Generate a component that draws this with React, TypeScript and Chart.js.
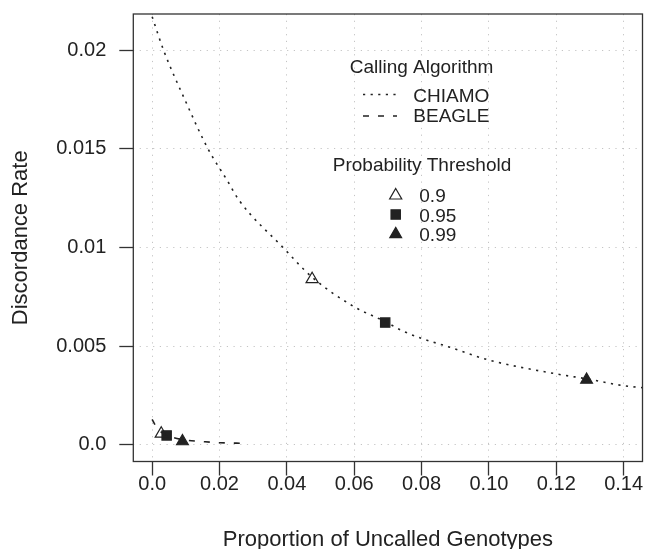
import React, { useEffect, useRef } from "react";
import { Chart, registerables } from "chart.js";

Chart.register(...registerables);

// ---- Data ----
const chiamoCurveX = [0.0, 0.0034, 0.0097, 0.0166, 0.0223, 0.0258, 0.0389, 0.0475, 0.06, 0.0692, 0.0741, 0.08, 0.0875, 0.10, 0.12, 0.129, 0.14, 0.1456];
const chiamoCurveY = [0.0217, 0.0200, 0.0175, 0.0150, 0.0134, 0.0124, 0.0100, 0.0085, 0.0070, 0.00625, 0.0058, 0.0054, 0.0050, 0.0043, 0.0036, 0.00335, 0.0030, 0.0029];

const beagleCurveX = [0.0, 0.0007, 0.0027, 0.0043, 0.009, 0.0157, 0.0203, 0.025, 0.0285];
const beagleCurveY = [0.0013, 0.00107, 0.00065, 0.00049, 0.00027, 0.00016, 0.00011, 0.00009, 0.00008];

const thresholds = ["0.9", "0.95", "0.99"];
const chiamoPointX = [0.0475, 0.0692, 0.129];
const chiamoPointY = [0.0084, 0.0062, 0.0033];
const beaglePointX = [0.0027, 0.0043, 0.009];
const beaglePointY = [0.00057, 0.00048, 0.00018];

const algorithms = ["CHIAMO", "BEAGLE"];

const xTickValues = [0, 0.02, 0.04, 0.06, 0.08, 0.1, 0.12, 0.14];
const xTickLabels = ["0.0", "0.02", "0.04", "0.06", "0.08", "0.10", "0.12", "0.14"];
const yTickValues = [0, 0.005, 0.01, 0.015, 0.02];
const yTickLabels = ["0.0", "0.005", "0.01", "0.015", "0.02"];

const xMin = -0.0056;
const xMax = 0.1456;
const yMin = -0.00084;
const yMax = 0.02184;

const FONT = "'Liberation Sans', Arial, Helvetica, sans-serif";
const INK = "#222222";

const markerStyles = [
  { style: "triangle", fill: "rgba(0,0,0,0)", radius: 7 },
  { style: "rect", fill: INK, radius: 6.6 },
  { style: "triangle", fill: INK, radius: 6.8 },
];

const lineDashes = [
  [2.2, 5.4],
  [6, 9],
];

const legendPlugin = {
  id: "rLegendBox",
  afterDraw(chart: any) {
    const ctx = chart.ctx as CanvasRenderingContext2D;
    const a = chart.chartArea;
    ctx.save();
    // plot box
    ctx.strokeStyle = "#333333";
    ctx.lineWidth = 1.3;
    ctx.setLineDash([]);
    ctx.strokeRect(a.left, a.top, a.right - a.left, a.bottom - a.top);

    // legend
    ctx.fillStyle = INK;
    ctx.textBaseline = "alphabetic";
    ctx.font = `19px ${FONT}`;
    ctx.textAlign = "center";
    ctx.fillText("Calling Algorithm", 421.5, 72.7);
    ctx.textAlign = "left";
    const algBase = [101.7, 122.3];
    const algLineY = [94.5, 116];
    algorithms.forEach((name, i) => {
      ctx.fillText(name, 413.3, algBase[i]);
      ctx.beginPath();
      ctx.strokeStyle = INK;
      ctx.lineWidth = 1.6;
      ctx.setLineDash(lineDashes[i]);
      ctx.moveTo(363, algLineY[i]);
      ctx.lineTo(397, algLineY[i]);
      ctx.stroke();
    });
    ctx.setLineDash([]);
    ctx.textAlign = "center";
    ctx.fillText("Probability Threshold", 422, 171);
    ctx.textAlign = "left";
    const thrBase = [201.7, 221.7, 241];
    const thrMarkY = [195.5, 214.5, 234.2];
    thresholds.forEach((t, i) => {
      ctx.fillStyle = INK;
      ctx.fillText(t, 419.3, thrBase[i]);
      const m = markerStyles[i];
      const x = 395.7;
      const y = thrMarkY[i];
      const r = m.radius;
      ctx.beginPath();
      if (m.style === "rect") {
        const s = r * Math.SQRT1_2;
        ctx.rect(x - s, y - s, 2 * s, 2 * s);
      } else {
        ctx.moveTo(x, y - r);
        ctx.lineTo(x + 0.866 * r, y + 0.5 * r);
        ctx.lineTo(x - 0.866 * r, y + 0.5 * r);
        ctx.closePath();
      }
      ctx.fillStyle = m.fill;
      ctx.fill();
      ctx.strokeStyle = INK;
      ctx.lineWidth = 1.2;
      ctx.stroke();
    });
    ctx.restore();
  },
};

export default function App() {
  const ref = useRef<HTMLCanvasElement | null>(null);

  useEffect(() => {
    document.body.style.margin = "0";
    const canvas = ref.current;
    if (!canvas) return;

    const curveDatasets = [
      {
        label: algorithms[0],
        data: chiamoCurveX.map((x, i) => ({ x, y: chiamoCurveY[i] })),
        showLine: true,
        pointRadius: 0,
        borderColor: INK,
        borderWidth: 1.6,
        borderDash: lineDashes[0],
        cubicInterpolationMode: "monotone",
        fill: false,
      },
      {
        label: algorithms[1],
        data: beagleCurveX.map((x, i) => ({ x, y: beagleCurveY[i] })),
        showLine: true,
        pointRadius: 0,
        borderColor: INK,
        borderWidth: 1.6,
        borderDash: lineDashes[1],
        cubicInterpolationMode: "monotone",
        fill: false,
      },
    ];

    const markerDatasets = thresholds.map((t, i) => ({
      label: t,
      data: [
        { x: chiamoPointX[i], y: chiamoPointY[i] },
        { x: beaglePointX[i], y: beaglePointY[i] },
      ],
      showLine: false,
      pointStyle: markerStyles[i].style,
      pointRadius: markerStyles[i].radius,
      pointBackgroundColor: markerStyles[i].fill,
      pointBorderColor: INK,
      pointBorderWidth: 1.2,
    }));

    const gridOpts: any = {
      color: "#c4c4c4",
      lineWidth: 1,
      tickColor: "#333333",
      tickWidth: 1.3,
      tickLength: 14,
      tickBorderDash: [],
      borderDash: [1.2, 5.5],
    };

    const chart = new Chart(canvas, {
      type: "scatter",
      data: { datasets: [...curveDatasets, ...markerDatasets] as any },
      plugins: [legendPlugin],
      options: {
        animation: false,
        responsive: false,
        devicePixelRatio: 1,
        layout: { autoPadding: false, padding: { top: 14, right: 2.5, left: 0, bottom: 0 } },
        plugins: { legend: { display: false }, tooltip: { enabled: false } },
        scales: {
          x: {
            type: "linear",
            min: xMin,
            max: xMax,
            afterBuildTicks: (s: any) => {
              s.ticks = xTickValues.map((v) => ({ value: v }));
            },
            afterFit: (s: any) => {
              s.height = 87.5;
              s.paddingLeft = 0;
              s.paddingRight = 0;
            },
            ticks: {
              autoSkip: false,
              maxRotation: 0,
              padding: -3,
              color: INK,
              font: { family: FONT, size: 20 },
              callback: (v: any) => {
                const i = xTickValues.findIndex((t) => Math.abs(t - v) < 1e-9);
                return i >= 0 ? xTickLabels[i] : "";
              },
            },
            grid: gridOpts,
            border: { display: false, dash: [1.2, 5.5] },
            title: {
              display: true,
              text: "Proportion of Uncalled Genotypes",
              color: INK,
              font: { family: FONT, size: 22 },
              padding: { top: 0, bottom: -4 },
            },
          },
          y: {
            type: "linear",
            min: yMin,
            max: yMax,
            afterBuildTicks: (s: any) => {
              s.ticks = yTickValues.map((v) => ({ value: v }));
            },
            afterFit: (s: any) => {
              s.width = 133.3;
              s.paddingTop = 0;
              s.paddingBottom = 0;
            },
            ticks: {
              autoSkip: false,
              padding: 13,
              color: INK,
              font: { family: FONT, size: 20 },
              callback: (v: any) => {
                const i = yTickValues.findIndex((t) => Math.abs(t - v) < 1e-9);
                return i >= 0 ? yTickLabels[i] : "";
              },
            },
            grid: gridOpts,
            border: { display: false, dash: [1.2, 5.5] },
            title: {
              display: true,
              text: "Discordance Rate",
              color: INK,
              font: { family: FONT, size: 22 },
              padding: { top: 8, bottom: 0 },
            },
          },
        },
      } as any,
    });
    return () => chart.destroy();
  }, []);

  return <canvas ref={ref} width={645} height={549} style={{ display: "block" }} />;
}
